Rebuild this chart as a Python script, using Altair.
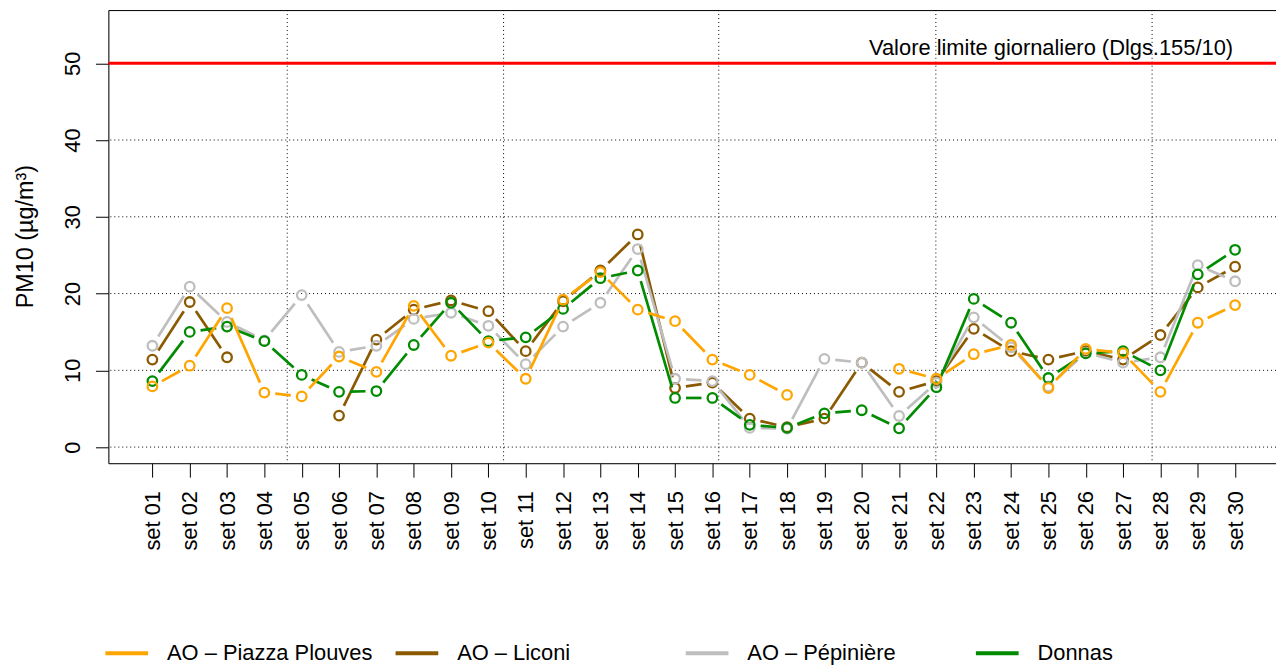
import json
import math
import altair as alt
import pandas as pd

# ---------------- data ----------------
days = ["set 01", "set 02", "set 03", "set 04", "set 05", "set 06", "set 07", "set 08",
        "set 09", "set 10", "set 11", "set 12", "set 13", "set 14", "set 15", "set 16",
        "set 17", "set 18", "set 19", "set 20", "set 21", "set 22", "set 23", "set 24",
        "set 25", "set 26", "set 27", "set 28", "set 29", "set 30"]

series_names = ["AO \u2013 Piazza Plouves", "AO \u2013 Liconi", "AO \u2013 P\u00e9pini\u00e8re", "Donnas"]
series_colors = ["#FFA500", "#8B5A00", "#BEBEBE", "#008B00"]

piazza_plouves = [7.9, 10.6, 18.1, 7.1, 6.6, 11.8, 9.8, 18.4, 11.9, 13.6,
                  8.9, 19.2, 22.8, 17.9, 16.4, 11.4, 9.4, 6.8, None, None,
                  10.2, 8.9, 12.1, 13.3, 7.7, 12.8, 12.25, 7.2, 16.2, 18.5]
liconi = [11.4, 18.9, 11.7, None, None, 4.1, 14.0, 17.9, 19.1, 17.7,
          12.5, 19.0, 23.0, 27.7, 7.7, 8.4, 3.7, 2.6, 3.7, 11.0,
          7.2, 8.6, 15.4, 12.5, 11.4, 12.5, 11.4, 14.6, 20.8, 23.5]
pepiniere = [13.2, 20.9, 16.3, 13.9, 19.8, 12.4, 13.2, 16.7, 17.5, 15.8,
             10.8, 15.7, 18.8, 25.8, 8.9, 8.6, 2.5, 2.4, 11.5, 11.0,
             4.05, 8.4, 16.9, 13.0, 7.9, 12.3, 11.0, 11.7, 23.7, 21.6]
donnas = [8.6, 15.0, 15.7, 13.8, 9.4, 7.2, 7.3, 13.3, 18.8, 13.8,
          14.3, 18.0, 22.0, 23.0, 6.4, 6.4, 2.9, 2.5, 4.4, 4.8,
          2.45, 7.8, 19.3, 16.2, 9.0, 12.2, 12.5, 10.0, 22.5, 25.7]

series_values = [piazza_plouves, liconi, pepiniere, donnas]
draw_order = [1, 2, 3, 0]  # brown, gray, green, orange (orange on top)

y_ticks = [0, 10, 20, 30, 40, 50]
h_grid = [0, 10, 20, 30, 40, 50]
v_grid = [4.612, 10.407, 16.17, 21.985, 27.777]
limit_value = 50
limit_label = "Valore limite giornaliero (Dlgs.155/10)"
limit_label_x = 30

# ---------------- layout ----------------
W, H = 1175, 456
X_DOM = [-0.179, 31.096]
Y_DOM = [-2.10, 56.93]
FONT = "Liberation Sans"
FS = 22
GAP = 11.0  # pixel gap between line ends and point centres (type="b")

sx = W / (X_DOM[1] - X_DOM[0])
sy = H / (Y_DOM[1] - Y_DOM[0])

xs = alt.Scale(domain=X_DOM, nice=False, zero=False)
ys = alt.Scale(domain=Y_DOM, nice=False, zero=False)
color_scale = alt.Scale(domain=series_names, range=series_colors)

label_expr = "[" + ",".join(json.dumps(d) for d in days) + "][datum.value - 1]"
x_axis = alt.Axis(values=list(range(1, len(days) + 1)), labelExpr=label_expr,
                  labelAngle=270, labelAlign="right", labelBaseline="middle",
                  labelFont=FONT, labelFontSize=FS, labelColor="black", labelPadding=13.5,
                  tickSize=14, tickColor="black", tickWidth=1, domain=False, grid=False,
                  title=None, labelOverlap=False, labelBound=False, labelFlush=False)
y_axis = alt.Axis(values=y_ticks, labelAngle=270, labelAlign="center", labelBaseline="alphabetic",
                  labelFont=FONT, labelFontSize=FS, labelColor="black", labelPadding=16,
                  tickSize=13, tickColor="black", tickWidth=1, domain=False, grid=False,
                  title="PM10 (\u00b5g/m\u00b3)", titleFont=FONT, titleFontSize=23.5,
                  titleFontWeight="normal", titleColor="black", titleAngle=270,
                  titleX=-76, titleY=227.5, titleAlign="center", titleBaseline="alphabetic",
                  labelOverlap=False, labelFlush=False)


def X(field=None, datum=None):
    if datum is not None:
        return alt.X(datum=datum, type="quantitative", scale=xs, axis=x_axis)
    return alt.X(field, type="quantitative", scale=xs, axis=x_axis)


def Y(field=None, datum=None):
    if datum is not None:
        return alt.Y(datum=datum, type="quantitative", scale=ys, axis=y_axis)
    return alt.Y(field, type="quantitative", scale=ys, axis=y_axis)


layers = []

# frame (left, top, bottom sides; right side falls outside the page)
frame = alt.Chart(pd.DataFrame({"a": [0]})).mark_rect(
    fill="white", fillOpacity=0, stroke="black", strokeWidth=1
).encode(x=alt.value(0.5), x2=alt.value(W + 20), y=alt.value(0.5), y2=alt.value(H + 0.5))
layers.append(frame)

hgrid = alt.Chart(pd.DataFrame({"g": h_grid})).mark_rule(
    color="black", strokeWidth=1, strokeDash=[1, 3]
).encode(y=Y("g"))
layers.append(hgrid)

vgrid = alt.Chart(pd.DataFrame({"g": v_grid})).mark_rule(
    color="black", strokeWidth=1, strokeDash=[1, 3]
).encode(x=X("g"))
layers.append(vgrid)

red = alt.Chart(pd.DataFrame({"a": [0]})).mark_rule(color="#FF0000", strokeWidth=3).encode(
    y=Y(datum=limit_value))
layers.append(red)

note = alt.Chart(pd.DataFrame({"a": [0]})).mark_text(
    text=limit_label, align="right", baseline="alphabetic", font=FONT, fontSize=FS,
    color="black", dy=-8.4, dx=-2
).encode(x=X(datum=limit_label_x), y=Y(datum=limit_value))
layers.append(note)

first = True
for si in draw_order:
    name = series_names[si]
    vals = series_values[si]
    segs = []
    for i in range(len(vals) - 1):
        a, b = vals[i], vals[i + 1]
        if a is None or b is None:
            continue
        x1, x2 = i + 1, i + 2
        dxp = (x2 - x1) * sx
        dyp = (b - a) * sy
        L = math.hypot(dxp, dyp)
        if L <= 2 * GAP:
            continue
        t = GAP / L
        segs.append({"series": name,
                     "x": x1 + t * (x2 - x1), "y": a + t * (b - a),
                     "x2": x2 - t * (x2 - x1), "y2": b - t * (b - a)})
    pts = [{"series": name, "x": i + 1, "y": v} for i, v in enumerate(vals) if v is not None]

    if first:
        legend = alt.Legend(title=None, orient="none", legendX=-5, legendY=623.5,
                            direction="horizontal", columns=4, gridAlign="all",
                            symbolType="stroke", symbolSize=43 * 43, symbolStrokeWidth=4,
                            labelFont=FONT, labelFontSize=FS, labelColor="black",
                            labelOffset=17, columnPadding=15, padding=0, symbolOffset=0,
                            labelLimit=400, labelBaseline="middle")
    else:
        legend = None
    first = False

    seg_layer = alt.Chart(pd.DataFrame(segs)).mark_rule(strokeWidth=2.7, strokeCap="butt").encode(
        x=X("x"), y=Y("y"), x2="x2:Q", y2="y2:Q",
        color=alt.Color("series:N", scale=color_scale, legend=legend),
    )
    pt_layer = alt.Chart(pd.DataFrame(pts)).mark_point(
        shape="circle", filled=False, size=92, strokeWidth=2.3, opacity=1
    ).encode(
        x=X("x"), y=Y("y"),
        color=alt.Color("series:N", scale=color_scale, legend=None),
    )
    layers.append(seg_layer)
    layers.append(pt_layer)

chart = alt.layer(*layers).properties(
    width=W, height=H,
    padding={"left": 101, "top": 0, "right": 0, "bottom": 203},
    autosize=alt.AutoSizeParams(type="none"),
).configure_view(stroke=None).configure(background="white")

chart.save("out.html", embed_options={"renderer": "svg", "actions": False})
